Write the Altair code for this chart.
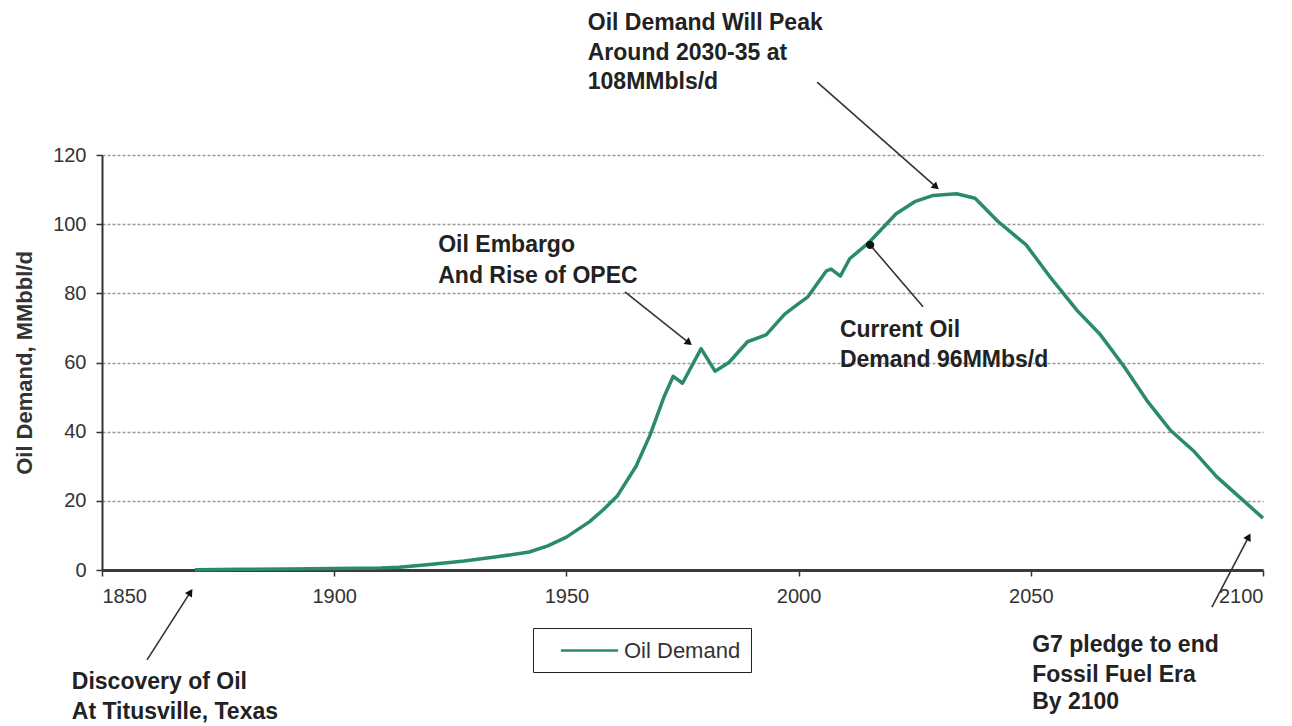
import altair as alt
import pandas as pd

# ---- data ----
years = [1870, 1880, 1890, 1900, 1910, 1914, 1920, 1928, 1935, 1942, 1946, 1950,
         1955, 1958, 1961, 1965, 1968, 1971, 1973, 1975, 1979, 1982, 1985, 1989,
         1993, 1997, 2000, 2002, 2006, 2007, 2009, 2011, 2015, 2021, 2025, 2029,
         2034, 2038, 2043, 2049, 2054, 2060, 2065, 2070, 2075, 2080, 2085, 2090,
         2095, 2100]
demand = [0.1, 0.2, 0.3, 0.4, 0.6, 0.8, 1.5, 2.6, 3.8, 5.2, 7.0, 9.5,
          14.0, 17.5, 21.5, 30.0, 39.0, 50.0, 56.0, 54.0, 64.0, 57.5, 60.0, 66.0,
          68.0, 74.0, 77.0, 79.0, 86.5, 87.0, 85.0, 90.0, 94.5, 103.0, 106.5, 108.3,
          108.8, 107.5, 100.7, 94.0, 85.0, 75.0, 68.0, 59.0, 49.0, 40.5, 34.5, 27.0,
          21.0, 15.0]
series_name = "Oil Demand"

x_ticks = [1850, 1900, 1950, 2000, 2050, 2100]
y_ticks = [0, 20, 40, 60, 80, 100, 120]

ann_text = ["Oil Demand Will Peak", "Around  2030-35 at", "108MMbls/d",
            "Oil Embargo", "And Rise of OPEC",
            "Current Oil", "Demand 96MMbs/d",
            "Discovery  of Oil", "At Titusville, Texas",
            "G7 pledge to end", "Fossil Fuel Era", "By 2100"]
ann_x = [1954.6, 1954.6, 1954.6,
         1922.4, 1922.4,
         2008.9, 2008.9,
         1843.5, 1843.5,
         2050.3, 2050.3, 2050.3]
ann_y = [158.2, 149.5, 141.1,
         94.0, 85.0,
         69.4, 60.7,
         -32.4, -41.1,
         -21.7, -30.4, -38.2]

arrow_x1 = [2004.0, 1962.6, 2026.8, 1859.7, 2089.0]
arrow_y1 = [141.1, 80.4, 76.1, -26.0, -10.7]
arrow_x2 = [2029.4, 1976.2, 2015.4, 1868.9, 2096.8]
arrow_y2 = [111.0, 65.9, 94.0, -6.7, 9.3]
arrow_angle = [131, 128, 320, 33, 28]
arrow_head = ["triangle", "triangle", "circle", "triangle", "triangle"]

# ---- tables ----
df = pd.DataFrame({"year": years, "demand": demand, "series": [series_name] * len(years)})
ann = pd.DataFrame({"x": ann_x, "y": ann_y, "text": ann_text})
arr = pd.DataFrame({"x1": arrow_x1, "y1": arrow_y1, "x2": arrow_x2, "y2": arrow_y2,
                    "angle": arrow_angle, "head": arrow_head})

FONT = "Liberation Sans"
xs = alt.Scale(domain=[1850, 2100], nice=False, zero=False)
ys = alt.Scale(domain=[0, 120], nice=False)

x_axis = alt.Axis(values=x_ticks, format="d", title=None, grid=False,
                  labelFontSize=20, labelFont=FONT, labelColor="#333",
                  labelPadding=10, tickSize=6, tickColor="#333", tickWidth=1.5,
                  domainColor="#3a3a3a", domainWidth=3)
y_axis = alt.Axis(values=y_ticks, title="Oil Demand, MMbbl/d",
                  titleFontSize=22, titleFont=FONT, titleFontWeight="bold",
                  titleColor="#333", titlePadding=16,
                  labelFontSize=20, labelFont=FONT, labelColor="#333",
                  labelPadding=10, tickSize=6, tickColor="#333", tickWidth=1.5,
                  domainColor="#333", domainWidth=2,
                  grid=True, gridColor="#999999", gridDash=[3, 2], gridWidth=1.6)

line = alt.Chart(df).mark_line(strokeWidth=3.5, strokeJoin="round").encode(
    x=alt.X("year:Q", scale=xs, axis=x_axis),
    y=alt.Y("demand:Q", scale=ys, axis=y_axis),
    color=alt.Color("series:N",
                    scale=alt.Scale(domain=[series_name], range=["#2a8a6c"]),
                    legend=alt.Legend(title=None, orient="none", legendX=431, legendY=473,
                                      strokeColor="#222", fillColor="white", padding=10,
                                      symbolType="M-2.6,0H2.6", symbolSize=484,
                                      symbolStrokeWidth=2.5, symbolOffset=34,
                                      labelFontSize=22, labelFont=FONT, labelColor="#333",
                                      labelOffset=22)),
)

rules = alt.Chart(arr).mark_rule(color="#333", strokeWidth=1.6).encode(
    x=alt.X("x1:Q", scale=xs), y=alt.Y("y1:Q", scale=ys),
    x2="x2:Q", y2="y2:Q",
)

heads = alt.Chart(arr).mark_point(filled=True, color="#111", opacity=1, size=70).encode(
    x=alt.X("x2:Q", scale=xs), y=alt.Y("y2:Q", scale=ys),
    angle=alt.Angle("angle:Q", scale=None),
    shape=alt.Shape("head:N", scale=None),
)

texts = alt.Chart(ann).mark_text(align="left", baseline="middle", fontSize=23,
                                 fontWeight="bold", font=FONT, color="#222").encode(
    x=alt.X("x:Q", scale=xs), y=alt.Y("y:Q", scale=ys), text="text:N",
)

chart = alt.layer(line, rules, heads, texts).properties(
    width=1161, height=415,
    autosize=alt.AutoSizeParams(type="none"),
    padding={"left": 94, "top": 147, "right": 15, "bottom": 154},
    background="white",
).configure_view(stroke=None)

chart.save("out.html", embed_options={"renderer": "svg", "actions": False})
